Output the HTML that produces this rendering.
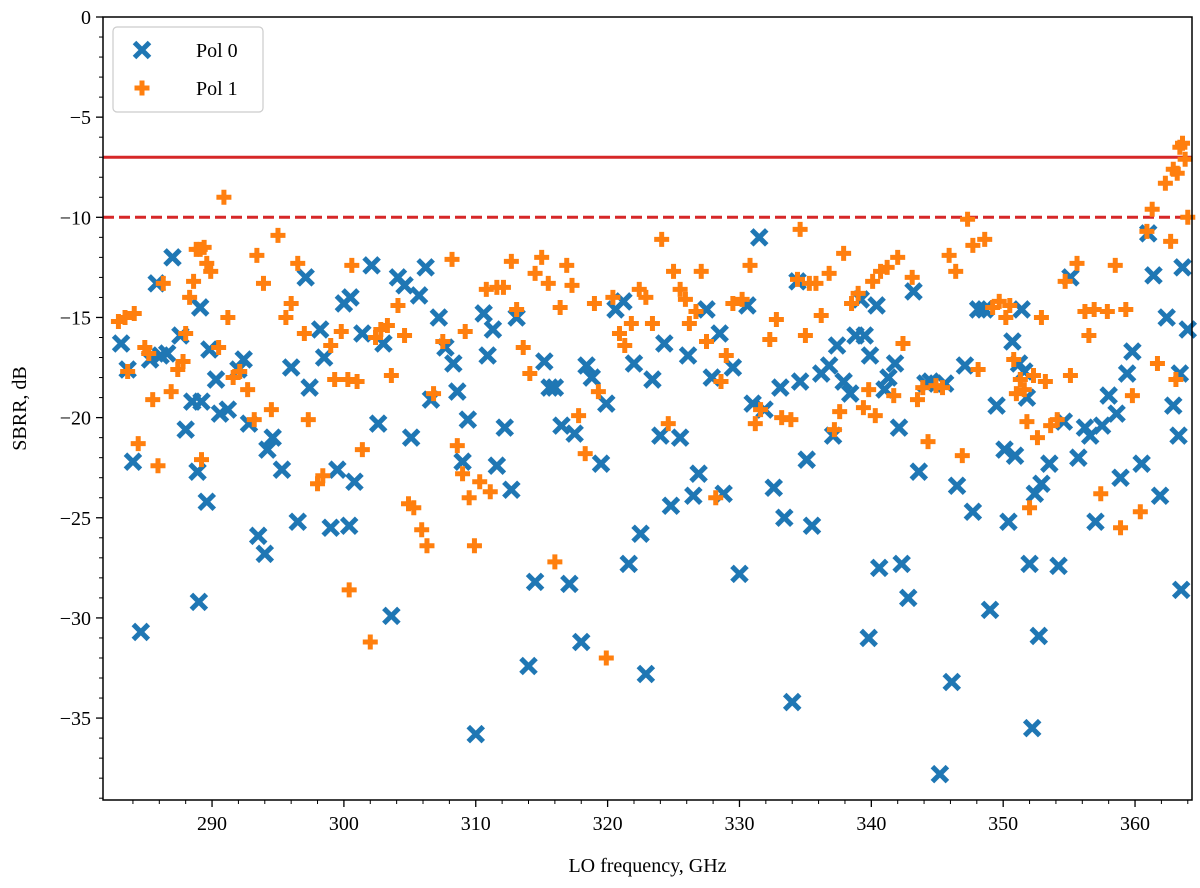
<!DOCTYPE html>
<html><head><meta charset="utf-8"><style>
html,body{margin:0;padding:0;background:#fff}
svg text{font-family:"Liberation Serif",serif;fill:#000}
</style></head><body>
<svg id="chart" width="1200" height="883" viewBox="0 0 1200 883" xmlns="http://www.w3.org/2000/svg">
<g id="grid"></g><g id="marks"></g><g id="axes"></g>
</svg>
<script>
const xTicks=[290,300,310,320,330,340,350,360];
const yTicks=[0,-5,-10,-15,-20,-25,-30,-35];
const limitSolid=-7, limitDashed=-10;
const pol0X=[283.1,283.6,284.0,284.6,285.3,285.8,286.1,286.6,287.0,287.6,288.0,288.5,288.9,289.0,289.1,289.2,289.6,289.8,290.3,290.6,291.2,292.0,292.4,292.8,293.5,294.0,294.2,294.6,295.3,296.0,296.5,297.1,297.4,298.2,298.5,299.0,299.5,300.0,300.5,300.4,300.8,301.4,302.1,302.6,303.0,303.6,304.1,304.6,305.1,305.7,306.2,306.6,307.2,307.7,308.3,308.6,309.0,309.4,310.0,310.6,310.9,311.3,311.6,312.2,312.7,313.1,314.0,314.5,315.2,315.6,316.0,316.5,317.1,317.5,318.0,318.4,318.8,319.5,319.9,320.6,321.2,321.6,322.0,322.5,322.9,323.4,324.0,324.3,324.8,325.5,326.1,326.5,326.9,327.5,327.9,328.5,328.8,329.5,330.0,330.6,331.0,331.5,331.9,332.6,333.1,333.4,334.0,334.4,334.6,335.1,335.5,336.2,336.8,337.1,337.4,337.9,338.4,338.8,339.2,339.5,339.8,339.9,340.4,340.6,341.0,341.3,341.8,342.1,342.3,342.8,343.2,343.6,344.1,344.5,345.2,345.6,346.1,346.5,347.1,347.7,348.1,348.6,349.0,349.5,350.1,350.4,350.7,350.9,351.2,351.4,351.6,351.8,352.0,352.2,352.4,352.7,352.9,353.5,354.2,354.6,355.1,355.7,356.2,356.6,357.0,357.5,358.0,358.6,358.9,359.4,359.8,360.5,361.0,361.4,361.9,362.4,362.9,363.4,363.3,363.5,363.6,364.0];
const pol0Y=[-16.3,-17.6,-22.2,-30.7,-17.1,-13.3,-16.9,-16.8,-12.0,-15.9,-20.6,-19.2,-22.7,-29.2,-14.5,-19.2,-24.2,-16.6,-18.1,-19.8,-19.6,-17.6,-17.1,-20.3,-25.9,-26.8,-21.6,-21.0,-22.6,-17.5,-25.2,-13.0,-18.5,-15.6,-17.0,-25.5,-22.6,-14.3,-14.0,-25.4,-23.2,-15.8,-12.4,-20.3,-16.3,-29.9,-13.0,-13.4,-21.0,-13.9,-12.5,-19.1,-15.0,-16.5,-17.3,-18.7,-22.2,-20.1,-35.8,-14.8,-16.9,-15.6,-22.4,-20.5,-23.6,-15.0,-32.4,-28.2,-17.2,-18.5,-18.5,-20.4,-28.3,-20.8,-31.2,-17.4,-18.0,-22.3,-19.3,-14.6,-14.2,-27.3,-17.3,-25.8,-32.8,-18.1,-20.9,-16.3,-24.4,-21.0,-16.9,-23.9,-22.8,-14.6,-18.0,-15.8,-23.8,-17.5,-27.8,-14.4,-19.3,-11.0,-19.6,-23.5,-18.5,-25.0,-34.2,-13.2,-18.2,-22.1,-25.4,-17.8,-17.4,-20.9,-16.4,-18.2,-18.8,-15.9,-14.1,-15.9,-31.0,-16.9,-14.4,-27.5,-18.6,-18.0,-17.3,-20.5,-27.3,-29.0,-13.7,-22.7,-18.3,-18.2,-37.8,-18.3,-33.2,-23.4,-17.4,-24.7,-14.6,-14.6,-29.6,-19.4,-21.6,-25.2,-16.2,-21.9,-17.3,-14.6,-17.7,-19.0,-27.3,-35.5,-23.8,-30.9,-23.3,-22.3,-27.4,-20.2,-13.0,-22.0,-20.5,-20.9,-25.2,-20.4,-18.9,-19.8,-23.0,-17.8,-16.7,-22.3,-10.8,-12.9,-23.9,-15.0,-19.4,-17.8,-20.9,-28.6,-12.5,-15.6];
const pol1X=[282.9,283.4,283.6,284.1,284.4,284.9,285.2,285.5,285.9,286.3,286.9,287.4,287.8,288.0,288.3,288.6,288.8,289.1,289.2,289.4,289.6,289.9,290.5,290.9,291.2,291.6,292.1,292.7,293.2,293.4,293.9,294.5,295.0,295.6,296.0,296.5,297.0,297.3,298.0,298.4,299.0,299.3,299.8,300.3,300.4,300.6,301.0,301.4,302.0,302.4,302.8,303.3,303.6,304.1,304.6,304.9,305.3,305.9,306.3,306.8,307.5,308.2,308.6,309.0,309.2,309.5,309.9,310.3,310.8,311.1,311.6,312.1,312.7,313.1,313.6,314.1,314.5,315.0,315.5,316.0,316.4,316.9,317.3,317.8,318.3,319.0,319.3,319.9,320.4,320.9,321.3,321.8,322.4,322.9,323.4,324.1,324.6,325.0,325.5,325.9,326.2,326.7,327.1,327.5,328.2,328.6,329.0,329.5,330.2,330.8,331.2,331.6,332.3,332.8,333.2,333.9,334.4,334.6,335.0,335.3,335.8,336.2,336.8,337.2,337.6,337.9,338.5,339.0,339.4,339.8,340.1,340.3,340.7,341.2,341.7,342.0,342.4,343.1,343.5,343.9,344.3,344.9,345.4,345.9,346.4,346.9,347.3,347.7,348.1,348.6,349.2,349.7,350.2,350.5,350.8,351.0,351.3,351.6,351.8,352.0,352.3,352.6,352.9,353.2,353.6,354.1,354.7,355.1,355.6,356.2,356.5,356.9,357.4,357.9,358.5,358.9,359.3,359.8,360.4,360.9,361.3,361.7,362.3,362.7,363.1,362.9,363.2,363.4,363.6,363.8,364.0];
const pol1Y=[-15.2,-15.0,-17.7,-14.8,-21.3,-16.5,-16.8,-19.1,-22.4,-13.3,-18.7,-17.6,-17.2,-15.8,-14.0,-13.2,-11.6,-11.6,-22.1,-11.5,-12.3,-12.7,-16.5,-9.0,-15.0,-18.0,-17.7,-18.6,-20.1,-11.9,-13.3,-19.6,-10.9,-15.0,-14.3,-12.3,-15.8,-20.1,-23.3,-22.9,-16.4,-18.1,-15.7,-18.1,-28.6,-12.4,-18.2,-21.6,-31.2,-16.0,-15.6,-15.4,-17.9,-14.4,-15.9,-24.3,-24.5,-25.6,-26.4,-18.8,-16.2,-12.1,-21.4,-22.8,-15.7,-24.0,-26.4,-23.2,-13.6,-23.7,-13.5,-13.5,-12.2,-14.6,-16.5,-17.8,-12.8,-12.0,-13.3,-27.2,-14.5,-12.4,-13.4,-19.9,-21.8,-14.3,-18.7,-32.0,-14.0,-15.8,-16.4,-15.3,-13.6,-14.0,-15.3,-11.1,-20.3,-12.7,-13.6,-14.1,-15.3,-14.7,-12.7,-16.2,-24.0,-18.2,-16.9,-14.3,-14.1,-12.4,-20.3,-19.6,-16.1,-15.1,-20.0,-20.1,-13.1,-10.6,-15.9,-13.3,-13.3,-14.9,-12.8,-20.6,-19.7,-11.8,-14.3,-13.8,-19.5,-18.6,-13.2,-19.9,-12.7,-12.5,-18.9,-12.0,-16.3,-13.0,-19.1,-18.5,-21.2,-18.4,-18.5,-11.9,-12.7,-21.9,-10.1,-11.4,-17.6,-11.1,-14.5,-14.2,-15.0,-14.4,-17.1,-18.8,-18.1,-18.6,-20.2,-24.5,-17.9,-21.0,-15.0,-18.2,-20.4,-20.1,-13.2,-17.9,-12.3,-14.7,-15.9,-14.6,-23.8,-14.7,-12.4,-25.5,-14.6,-18.9,-24.7,-10.7,-9.6,-17.3,-8.3,-11.2,-18.1,-7.6,-7.8,-6.5,-6.3,-7.1,-10.0];

const L=103,R=1192,T=17,B=800;
const X0=281.73,X1=364.32,Y0=-39.09,Y1=0;
const sx=v=>L+(v-X0)/(X1-X0)*(R-L);
const sy=v=>T+(Y1-v)/(Y1-Y0)*(B-T);
const NS="http://www.w3.org/2000/svg";
function mk(tag,attrs,parent){const e=document.createElementNS(NS,tag);for(const k in attrs)e.setAttribute(k,attrs[k]);parent.appendChild(e);return e;}
const marks=document.getElementById('marks'),axes=document.getElementById('axes'),grid=document.getElementById('grid');

let l1=mk('line',{x1:L,x2:R,y1:sy(limitSolid),y2:sy(limitSolid),stroke:'#d62728','stroke-width':3},grid);


let l2=mk('line',{x1:L,x2:R,y1:sy(limitDashed),y2:sy(limitDashed),stroke:'#d62728','stroke-width':3,'stroke-dasharray':'11,5'},grid);



function drawX(cx,cy,g){const s=7.5;mk('path',{d:`M${cx-s},${cy-s}L${cx+s},${cy+s}M${cx-s},${cy+s}L${cx+s},${cy-s}`,stroke:'#1f77b4','stroke-width':5},g);}
function drawP(cx,cy,g){const s=7.5;mk('path',{d:`M${cx-s},${cy}L${cx+s},${cy}M${cx},${cy-s}L${cx},${cy+s}`,stroke:'#ff7f0e','stroke-width':5},g);}

pol0X.forEach((v,i)=>{const g=mk('g',{},marks);


drawX(sx(v),sy(pol0Y[i]),g);});
pol1X.forEach((v,i)=>{const g=mk('g',{},marks);


drawP(sx(v),sy(pol1Y[i]),g);});

let frame=mk('rect',{x:L,y:T,width:R-L,height:B-T,fill:'none',stroke:'#000','stroke-width':1.5},axes);


for(let v=284;v<=364;v+=2){if(v%10)mk('line',{x1:sx(v),x2:sx(v),y1:B,y2:B+4,stroke:'#000','stroke-width':1},axes);}
for(let v=-39;v<=0;v++){if(v%5)mk('line',{x1:L,x2:L-4,y1:sy(v),y2:sy(v),stroke:'#000','stroke-width':1},axes);}
xTicks.forEach(v=>{mk('line',{x1:sx(v),x2:sx(v),y1:B,y2:B+7,stroke:'#000','stroke-width':1.3},axes);
const t=mk('text',{x:sx(v),y:B+30,'text-anchor':'middle','font-size':20},axes);t.textContent=v;

});
yTicks.forEach(v=>{mk('line',{x1:L,x2:L-7,y1:sy(v),y2:sy(v),stroke:'#000','stroke-width':1.3},axes);
const t=mk('text',{x:L-12,y:sy(v)+7,'text-anchor':'end','font-size':20},axes);t.textContent=v===0?'0':'\u2212'+Math.abs(v);

});
let xl=mk('text',{x:(L+R)/2,y:872,'text-anchor':'middle','font-size':20},axes);xl.textContent='LO frequency, GHz';


let yl=mk('text',{x:0,y:0,'text-anchor':'middle','font-size':20,transform:`translate(26,${(T+B)/2}) rotate(-90)`},axes);yl.textContent='SBRR, dB';



const lg=mk('g',{},axes);


mk('rect',{x:113,y:27,width:150,height:85,rx:4,fill:'#fff',stroke:'#ccc','stroke-width':1.2},lg);
const e0=mk('g',{},lg);


drawX(142,50,e0);
let t0=mk('text',{x:196,y:57,'font-size':20},e0);t0.textContent='Pol 0';
const e1=mk('g',{},lg);


drawP(142,88,e1);
let t1=mk('text',{x:196,y:95,'font-size':20},e1);t1.textContent='Pol 1';
</script>
</body></html>
